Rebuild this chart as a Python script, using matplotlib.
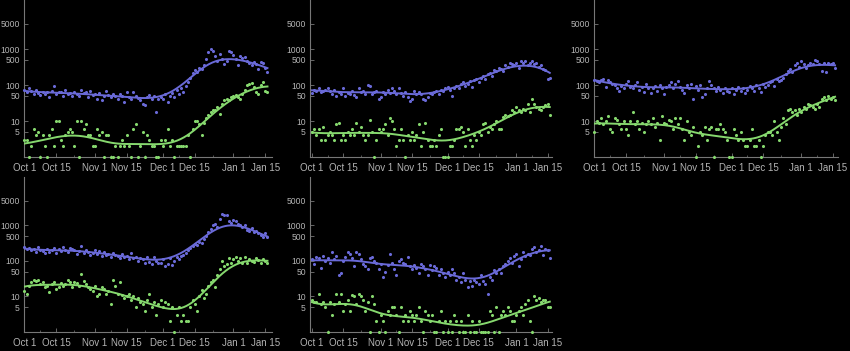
import numpy as np
import matplotlib
matplotlib.use('Agg')
import matplotlib.pyplot as plt

plt.rcParams['font.family'] = ['Liberation Sans', 'DejaVu Sans']

tick_days = [0, 14, 31, 45, 61, 75, 92, 106]
tick_labels = ['Oct 1', 'Oct 15', 'Nov 1', 'Nov 15', 'Dec 1', 'Dec 15', 'Jan 1', 'Jan 15']
y_ticks = [5, 10, 50, 100, 500, 1000, 5000]

# one value per day, Oct 1 .. Jan 16
p1_blue = [75, 62, 80, 68, 55, 72, 60, 52, 66, 58,
           64, 45, 70, 92, 56, 62, 66, 50, 72, 55,
           60, 48, 64, 55, 50, 72, 60, 66, 45, 68,
           52, 56, 42, 60, 38, 48, 70, 52, 45, 58,
           50, 42, 56, 48, 34, 62, 45, 40, 66, 50,
           44, 38, 30, 28, 46, 52, 40, 48, 18, 42,
           46, 40, 56, 34, 50, 60, 46, 72, 56, 82,
           66, 95, 125, 160, 210, 260, 230, 300, 280, 360,
           520, 850, 1000, 900, 620, 450, 720, 520, 380, 460,
           900, 820, 700, 520, 360, 640, 560, 600, 460, 400,
           360, 430, 380, 280, 440, 410, 300, 230]
p1_green = [3, 3, 1, 2, 6, 4, 5, 1, 4, 2,
            1, 4, 6, 2, 10, 10, 3, 2, 4, 5,
            6, 5, 2, 10, 1, 10, 6, 8, 4, 4,
            2, 2, 6, 4, 5, 1, 4, 4, 1, 1,
            2, 1, 2, 3, 2, 4, 2, 1, 6, 8,
            1, 2, 5, 1, 4, 3, 2, 2, 1, 1,
            3, 2, 3, 6, 2, 3, 1, 2, 2, 2,
            2, 2, 4, 1, 6, 10, 10, 8, 4, 9,
            12, 15, 18, 20, 20, 25, 16, 30, 38, 42,
            38, 47, 48, 52, 47, 42, 58, 72, 100, 110,
            115, 90, 65, 58, 100, 120, 70, 65]

p2_blue = [60, 75, 70, 80, 62, 68, 75, 85, 70, 55,
           72, 50, 65, 58, 80, 48, 60, 55, 70, 52,
           45, 80, 62, 70, 58, 100, 95, 55, 65, 70,
           40, 45, 62, 55, 75, 60, 85, 70, 55, 80,
           60, 50, 65, 45, 35, 40, 70, 58, 62, 55,
           42, 38, 45, 60, 55, 65, 70, 58, 75, 68,
           80, 90, 72, 48, 85, 95, 80, 110, 120, 95,
           105, 130, 90, 140, 150, 120, 160, 180, 150, 200,
           220, 180, 260, 240, 300, 280, 250, 350, 320, 400,
           380, 350, 420, 300, 450, 400, 450, 350, 420, 450,
           380, 420, 320, 350, 280, 260, 150, 160]
p2_green = [5, 6, 4, 6, 3, 7, 3, 4, 5, 4,
            3, 8, 9, 3, 4, 3, 5, 4, 6, 4,
            9, 5, 7, 4, 3, 4, 11, 5, 1, 3,
            6, 5, 6, 8, 4, 12, 10, 6, 2, 3,
            6, 3, 1, 4, 3, 5, 3, 4, 8, 2,
            5, 9, 3, 2, 2, 3, 2, 4, 6, 1,
            1, 1, 2, 2, 3, 6, 6, 7, 5, 2,
            6, 3, 2, 4, 3, 5, 4, 8, 9, 5,
            7, 6, 8, 10, 6, 6, 13, 15, 14, 15,
            20, 18, 25, 20, 18, 22, 20, 30, 18, 40,
            30, 25, 22, 20, 25, 28, 30, 15]

p3_blue = [140, 130, 120, 135, 150, 90, 140, 125, 110, 100,
           80, 70, 95, 85, 110, 130, 90, 80, 100, 120,
           75, 90, 65, 110, 85, 60, 80, 95, 70, 100,
           85, 55, 90, 100, 120, 80, 110, 130, 90, 75,
           60, 100, 85, 110, 40, 95, 75, 100, 45, 55,
           85, 130, 100, 80, 70, 90, 75, 60, 85, 70,
           65, 80, 55, 75, 90, 70, 85, 60, 75, 95,
           80, 70, 100, 85, 65, 110, 90, 100, 120, 130,
           95, 150, 130, 140, 160, 200, 250, 280, 230, 350,
           400, 320, 450, 380, 300, 350, 420, 380, 500, 450,
           380, 250, 420, 230, 400, 380, 420, 300]
p3_green = [5, 10, 9, 12, 8, 10, 14, 6, 5, 12,
            11, 8, 6, 10, 6, 4, 10, 18, 8, 10,
            6, 9, 5, 8, 10, 8, 12, 7, 9, 3,
            14, 9, 8, 11, 10, 6, 12, 8, 12, 6,
            3, 10, 5, 4, 7, 1, 2, 5, 4, 7,
            3, 6, 7, 1, 6, 6, 8, 6, 5, 3,
            1, 1, 6, 4, 3, 5, 3, 2, 2, 3,
            6, 2, 2, 3, 1, 2, 4, 5, 5, 4,
            10, 5, 3, 7, 12, 8, 20, 22, 18, 20,
            15, 22, 18, 25, 22, 30, 28, 25, 22, 30,
            25, 40, 45, 38, 50, 42, 45, 38]

p4_blue = [250, 210, 230, 200, 220, 180, 240, 200, 190, 170,
           210, 180, 200, 230, 170, 220, 190, 240, 200, 180,
           230, 210, 200, 160, 190, 260, 170, 200, 180, 150,
           170, 200, 160, 190, 140, 180, 150, 160, 130, 170,
           150, 140, 120, 160, 130, 140, 110, 170, 120, 130,
           100, 120, 110, 90, 130, 95, 80, 130, 100, 90,
           85, 110, 70, 80, 120, 75, 100, 130, 110, 140,
           150, 170, 200, 230, 260, 300, 280, 350, 320, 420,
           500, 650, 800, 1000, 1100, 900, 1500, 2100, 1900, 2000,
           1300, 1200, 1400, 1300, 1100, 1000, 900, 1000, 750, 700,
           850, 650, 700, 600, 550, 480, 600, 480]
p4_green = [14, 12, 20, 25, 30, 28, 30, 22, 26, 18,
            20, 13, 22, 25, 16, 18, 24, 20, 22, 30,
            25, 18, 26, 24, 20, 42, 28, 22, 18, 16,
            14, 20, 10, 12, 18, 16, 12, 14, 6, 30,
            20, 12, 25, 11, 9, 10, 12, 8, 10, 5,
            9, 7, 6, 4, 8, 12, 5, 7, 3, 6,
            8, 5, 7, 6, 2, 5, 1, 3, 5, 2,
            3, 2, 2, 5, 8, 6, 4, 10, 15, 9,
            12, 20, 25, 30, 18, 40, 60, 100, 70, 80,
            120, 90, 110, 130, 100, 120, 85, 130, 90, 110,
            100, 95, 120, 105, 85, 110, 100, 90]

p5_blue = [110, 80, 130, 120, 65, 140, 100, 120, 90, 180,
           110, 140, 40, 45, 100, 130, 180, 160, 120, 70,
           180, 160, 110, 80, 70, 60, 120, 130, 100, 90,
           60, 80, 35, 50, 75, 160, 90, 60, 40, 100,
           110, 90, 80, 130, 70, 60, 75, 65, 45, 80,
           70, 60, 40, 75, 55, 70, 65, 40, 60, 45,
           35, 50, 40, 60, 45, 30, 35, 25, 45, 30,
           18, 28, 20, 30, 25, 22, 40, 28, 22, 12,
           35, 30, 55, 45, 60, 45, 70, 80, 100, 120,
           90, 140, 160, 70, 110, 180, 140, 160, 150, 220,
           240, 180, 200, 260, 150, 220, 200, 120]
p5_green = [8, 7, 7, 12, 6, 7, 5, 1, 7, 3,
            6, 12, 7, 12, 4, 6, 8, 4, 11, 10,
            6, 12, 10, 8, 4, 7, 1, 10, 6, 2,
            1, 3, 2, 1, 4, 3, 5, 5, 3, 1,
            5, 2, 3, 2, 4, 3, 2, 3, 5, 2,
            1, 4, 3, 2, 3, 1, 1, 2, 4, 1,
            2, 1, 2, 1, 3, 2, 1, 2, 1, 1,
            3, 1, 2, 1, 1, 2, 1, 1, 1, 1,
            4, 3, 1, 5, 1, 3, 4, 3, 5, 4,
            2, 2, 3, 4, 5, 3, 6, 8, 2, 1,
            10, 8, 9, 7, 8, 8, 5, 5]

panels = [
    (p1_blue, p1_green, [24, 0, 248, 157], (-0.2, 109)),
    (p2_blue, p2_green, [310, 0, 242, 157], (-0.9, 108)),
    (p3_blue, p3_green, [594, 0, 244, 157], (-0.2, 108.3)),
    (p4_blue, p4_green, [24, 177, 248, 155], (-0.2, 109)),
    (p5_blue, p5_green, [310, 177, 242, 155], (-0.9, 108)),
]

BLUE = '#6a6ad8'
GREEN = '#86d86e'
AXIS = '#777777'
LABEL = '#b4b4b4'
W, H = 850, 351


def smooth(vals, bw=7.5):
    # local linear fit on log10 values, gaussian weights
    y = np.log10(np.array(vals, dtype=float))
    x = np.arange(len(y), dtype=float)
    xs = np.linspace(0, len(y) - 1, 300)
    out = []
    for x0 in xs:
        w = np.exp(-0.5 * ((x - x0) / bw) ** 2)
        b, a = np.polyfit(x - x0, y, 1, w=np.sqrt(w))
        out.append(a)
    return xs, 10 ** np.array(out)


fig = plt.figure(figsize=(W / 100, H / 100), dpi=100, facecolor='black')

for blue, green, (px, py, pw, ph), xl in panels:
    ax = fig.add_axes([px / W, 1 - (py + ph) / H, pw / W, ph / H])
    ax.set_facecolor('black')
    days = np.arange(len(blue))
    for vals, col in ((blue, BLUE), (green, GREEN)):
        ax.scatter(days, vals, s=5, color=col, lw=0, clip_on=False, zorder=3)
        xs, ys = smooth(vals)
        ax.plot(xs, ys, color=col, lw=1.4, zorder=4)
    ax.set_yscale('log')
    ax.set_ylim(1, 23000)
    ax.set_xlim(*xl)
    ax.set_yticks(y_ticks)
    ax.set_yticklabels([str(t) for t in y_ticks])
    ax.yaxis.set_minor_locator(matplotlib.ticker.NullLocator())
    ax.set_xticks(tick_days)
    ax.set_xticklabels(tick_labels)
    ax.set_xticks([7, 22, 38, 53, 68, 83, 99], minor=True)
    for s in ('top', 'right'):
        ax.spines[s].set_visible(False)
    for s in ('left', 'bottom'):
        ax.spines[s].set_color(AXIS)
        ax.spines[s].set_linewidth(0.8)
    ax.tick_params(axis='y', direction='in', length=3, width=0.6, color=AXIS,
                   labelcolor=LABEL, labelsize=6.2, pad=3)
    ax.tick_params(axis='x', which='major', direction='in', length=3, width=0.6,
                   color=AXIS, labelcolor=LABEL, labelsize=7, pad=4)
    ax.tick_params(axis='x', which='minor', direction='in', length=1.5, width=0.5, color=AXIS)

fig.savefig('out.png', dpi=100, facecolor='black')
